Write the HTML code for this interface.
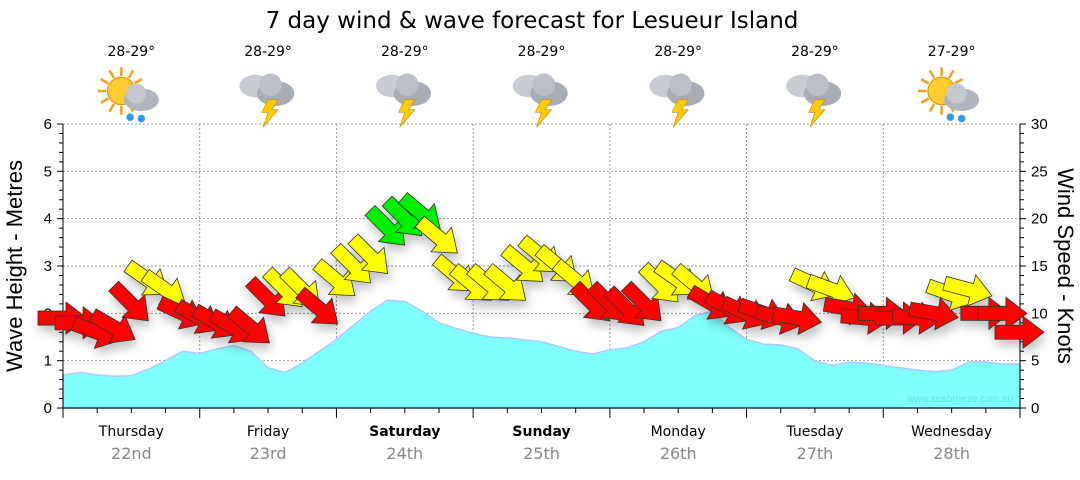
<!DOCTYPE html>
<html><head><meta charset="utf-8"><style>
body{margin:0;background:#fff;font-family:"Liberation Sans",sans-serif}
svg text{font-family:"Liberation Sans",sans-serif}
svg text.dv{font-family:"DejaVu Sans","Liberation Sans",sans-serif}
</style></head><body>
<svg id="c" width="1080" height="475">
<defs>
<filter id="sh" x="-50%" y="-50%" width="200%" height="200%"><feDropShadow dx="2" dy="6" stdDeviation="5" flood-color="#000" flood-opacity="0.25"/></filter>
</defs>
<text class="dv" x="532" y="28" font-size="23" text-anchor="middle">7 day wind &amp; wave forecast for Lesueur Island</text>
<g id="grid"></g><g id="wave"></g><g id="axes"></g><g id="icons"></g><g id="arrows" filter="url(#sh)"></g>
<text x="1013" y="402" font-size="10" fill="#66dde6" text-anchor="end">www.seabreeze.com.au</text>
<text transform="translate(22,266) rotate(-90)" font-size="22" text-anchor="middle">Wave Height - Metres</text>
<text transform="translate(1058,266) rotate(90)" font-size="22" text-anchor="middle">Wind Speed - Knots</text>
</svg>
<script>
const days=["Thursday","Friday","Saturday","Sunday","Monday","Tuesday","Wednesday"];
const dates=["22nd","23rd","24th","25th","26th","27th","28th"];
const temps=["28-29°","28-29°","28-29°","28-29°","28-29°","28-29°","27-29°"];
const iconTypes=["sunrain","storm","storm","storm","storm","storm","sunrain"];
const waveHeights=[0.7,0.75,0.7,0.67,0.68,0.82,1.0,1.2,1.15,1.25,1.32,1.2,0.85,0.75,0.95,1.2,1.45,1.75,2.05,2.28,2.25,2.05,1.8,1.68,1.58,1.5,1.48,1.44,1.4,1.3,1.2,1.14,1.23,1.27,1.4,1.62,1.7,1.95,2.05,1.7,1.45,1.35,1.33,1.25,1.0,0.9,0.97,0.95,0.9,0.85,0.8,0.77,0.8,0.97,0.97,0.93,0.93];
const windKnots=[9.5,9,8,8.5,11,13.5,12.5,10,9.5,9,8.5,8.5,11.5,12.5,12.5,10.5,13.5,15,16,19,20,20.5,18,14,13,13,13,15,16,15,13.5,11,11,10.5,11,13,13.5,13,11,10.5,10,10,9.5,9.5,13,12.5,10.5,9.5,10,9.5,9.5,10,12,12.5,10,10,8];
const windDir=[0,0,20,30,45,35,35,25,30,30,30,40,45,45,45,40,40,45,45,45,45,40,40,40,40,40,40,40,40,40,40,45,45,45,45,45,35,40,30,30,25,20,15,10,25,20,10,5,0,0,5,10,20,15,0,0,0];
const leftTicks=[0,1,2,3,4,5,6];
const rightTicks=[0,5,10,15,20,25,30];
const X0=63,X1=1020,Y0=408,Y1=124,HOURS=168;
const xT=h=>X0+(X1-X0)*h/HOURS;
const yM=m=>Y0-(Y0-Y1)*m/6;
const yK=k=>Y0-(Y0-Y1)*k/30;
const NS="http://www.w3.org/2000/svg";
function mk(p,t,a){const e=document.createElementNS(NS,t);for(const k in a)e.setAttribute(k,a[k]);p.appendChild(e);return e;}
const grid=document.getElementById('grid'),axes=document.getElementById('axes'),wave=document.getElementById('wave'),icons=document.getElementById('icons'),arrows=document.getElementById('arrows');
leftTicks.forEach(v=>{if(v>0){const l=mk(grid,'line',{x1:X0,x2:X1,y1:yM(v),y2:yM(v),stroke:'#999','stroke-dasharray':'2,2'});}});
for(let d=1;d<7;d++){const l=mk(grid,'line',{x1:xT(d*24),x2:xT(d*24),y1:Y1,y2:Y0,stroke:'#999','stroke-dasharray':'2,2'});}
let pts=`M${X0},${Y0}`;waveHeights.forEach((v,i)=>pts+=` L${xT(i*3)},${yM(v)}`);pts+=` L${X1},${Y0}Z`;
const wp=mk(wave,'path',{d:pts,fill:'#80ffff',stroke:'#aaccff','stroke-width':1.5});

mk(axes,'line',{x1:X0,x2:X0,y1:Y1,y2:Y0,stroke:'#000'});
mk(axes,'line',{x1:X1,x2:X1,y1:Y1,y2:Y0,stroke:'#000'});
mk(axes,'line',{x1:X0,x2:X1,y1:Y0,y2:Y0,stroke:'#1a3a5a','stroke-width':1.5});
for(let i=0;i<=30;i++){const v=i/5;mk(axes,'line',{x1:X0-(i%5?4:6),x2:X0,y1:yM(v),y2:yM(v),stroke:'#000'});}
for(let k=0;k<=30;k++)mk(axes,'line',{x1:X1,x2:X1+(k%5?4:6),y1:yK(k),y2:yK(k),stroke:'#000'});
leftTicks.forEach(v=>{const t=mk(axes,'text',{x:X0-11,y:yM(v)+5,'font-size':15,'text-anchor':'end'});t.textContent=v;});
rightTicks.forEach(v=>{const t=mk(axes,'text',{x:X1+11,y:yK(v)+5,'font-size':15});t.textContent=v;});
for(let h=0;h<=HOURS;h+=6)mk(axes,'line',{x1:xT(h),x2:xT(h),y1:Y0,y2:Y0+(h%24?5:10),stroke:'#000'});
days.forEach((d,i)=>{const cx=xT(i*24+12);
const t=mk(axes,'text',{class:'dv',x:cx,y:436,'font-size':14,'text-anchor':'middle','font-weight':(i==2||i==3)?'bold':'normal'});t.textContent=d;
const t2=mk(axes,'text',{class:'dv',x:cx,y:459,'font-size':16,'text-anchor':'middle',fill:'#888'});t2.textContent=dates[i];
const t3=mk(icons,'text',{class:'dv',x:cx,y:56,'font-size':14,'text-anchor':'middle'});t3.textContent=temps[i];
const g=mk(icons,'g',{transform:`translate(${cx},96) scale(1.25)`});
if(iconTypes[i]=='sunrain'){for(let a=0;a<360;a+=30){const r=a*Math.PI/180;mk(g,'line',{x1:-8+Math.cos(r)*12,y1:-4+Math.sin(r)*12,x2:-8+Math.cos(r)*19,y2:-4+Math.sin(r)*19,stroke:'#f0a020','stroke-width':2});}
mk(g,'circle',{cx:-8,cy:-4,r:11,fill:'#ffcc33',stroke:'#e09a10'});
mk(g,'ellipse',{cx:8,cy:3,rx:14,ry:9,fill:'#b0b4bc'});mk(g,'circle',{cx:4,cy:-2,r:8,fill:'#c4c8ce'});
mk(g,'circle',{cx:-1,cy:17,r:3,fill:'#3399ee'});mk(g,'circle',{cx:8,cy:18,r:3,fill:'#3399ee'});}
else{mk(g,'ellipse',{cx:-10,cy:-8,rx:13,ry:9,fill:'#c8ccd2'});mk(g,'ellipse',{cx:6,cy:-2,rx:15,ry:10,fill:'#a8adb5'});mk(g,'circle',{cx:2,cy:-9,r:9,fill:'#bcc0c6'});
mk(g,'polygon',{points:'0,3 8,3 3,11 8,11 -4,25 0,13 -5,13',fill:'#ffcc00',stroke:'#cc8800','stroke-width':0.5});}
});
windKnots.forEach((k,i)=>{const cx=xT(i*3),cy=yK(k);const col=k>=19?'#00ee00':(k>=12?'#ffff00':'#ff0000');
const a=mk(arrows,'polygon',{points:'-25,-7 3,-7 3,-16 24,0 3,16 3,7 -25,7',fill:col,stroke:'#333','stroke-width':0.8,transform:`translate(${cx},${cy}) rotate(${windDir[i]})`});
});
</script>
</body></html>
